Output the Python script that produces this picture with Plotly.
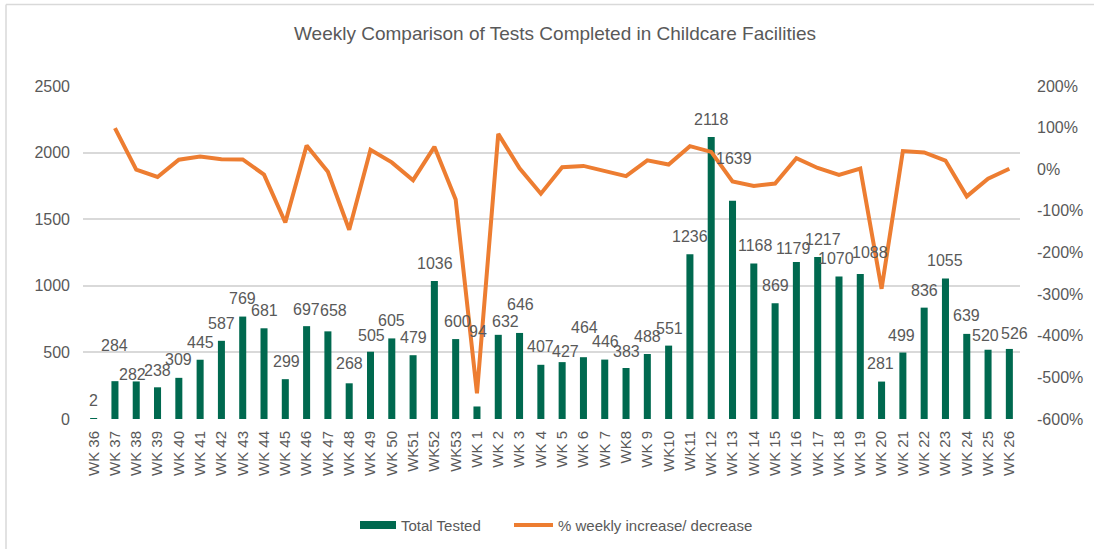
import plotly.graph_objects as go

# ---------------- data ----------------
weeks = ["WK 36", "WK 37", "WK 38", "WK 39", "WK 40", "WK 41", "WK 42", "WK 43", "WK 44",
         "WK 45", "WK 46", "WK 47", "WK 48", "WK 49", "WK 50", "WK51", "WK52", "WK53",
         "WK 1", "WK 2", "WK 3", "WK 4", "WK 5", "WK 6", "WK 7", "WK8", "WK 9", "WK10",
         "WK11", "WK 12", "WK 13", "WK 14", "WK 15", "WK 16", "WK 17", "WK 18", "WK 19",
         "WK 20", "WK 21", "WK 22", "WK 23", "WK 24", "WK 25", "WK 26"]

total_tested = [2, 284, 282, 238, 309, 445, 587, 769, 681,
                299, 697, 658, 268, 505, 605, 479, 1036, 600,
                94, 632, 646, 407, 427, 464, 446, 383, 488, 551,
                1236, 2118, 1639, 1168, 869, 1179, 1217, 1070, 1088,
                281, 499, 836, 1055, 639, 520, 526]

weekly_change = [None, 0.99, -0.007, -0.185, 0.230, 0.306, 0.242, 0.237, -0.129,
                 -1.278, 0.571, -0.059, -1.455, 0.469, 0.165, -0.263, 0.538, -0.727,
                 -5.383, 0.851, 0.022, -0.587, 0.047, 0.080, -0.040, -0.164, 0.215, 0.114,
                 0.554, 0.416, -0.292, -0.403, -0.344, 0.263, 0.031, -0.137, 0.017,
                 -2.872, 0.437, 0.403, 0.208, -0.651, -0.229, 0.011]

left_ticks = [0, 500, 1000, 1500, 2000, 2500]
right_ticks = [-6, -5, -4, -3, -2, -1, 0, 1, 2]
right_tick_labels = ["-600%", "-500%", "-400%", "-300%", "-200%", "-100%", "0%", "100%", "200%"]

title_text = "Weekly Comparison of Tests Completed in Childcare Facilities"
bar_name = "Total Tested"
line_name = "% weekly increase/ decrease"

# ---------------- style ----------------
W, H = 1094, 549
PL, PR, PT, PB = 83, 1020, 86, 419
FONT = "Liberation Sans, Arial, sans-serif"
TXT = "#595959"
GREEN = "#00694F"
ORANGE = "#ED7D31"
GRID = "#D9D9D9"

# label pixel offsets (manual placement as in the original)
label_dy = [18, 36, 6.5, 17, 18, 17, 17.5, 18, 17.6,
            17.5, 17, 20.7, 20, 16.7, 17.7, 17.5, 17.7, 17.3,
            75, 13, 28.7, 18, 11, 29.5, 18, 16, 18, 17.3,
            17.7, 17.6, 42, 17.7, 18, 13.7, 17, 17.5, 21.4,
            18, 17, 17.6, 17.5, 18, 14, 15]
label_dx = [0, 0, -3.6, 0, 0, 0, 0, 0, 0,
            1, 0, 6, 0, 1.5, 0, 0.8, 1, 1.5,
            1, 7.7, 1, 0, 3, 1, 0.5, 0, 0, 1,
            0, 0.7, 1, 1.3, 0, -2.5, 5.5, -3, 10,
            -0.8, -1.3, 0, -0.7, 0, -2.6, 5.4]


def px_x(p):
    return (p - PL) / (PR - PL)


def px_y(p):
    return (PB - p) / (PB - PT)


fig = go.Figure()

fig.add_trace(go.Bar(
    x=weeks, y=total_tested, name=bar_name,
    marker=dict(color=GREEN, line=dict(width=0)),
    width=0.33, yaxis="y", showlegend=False,
))

fig.add_trace(go.Scatter(
    x=weeks, y=weekly_change, name=line_name, mode="lines",
    line=dict(color=ORANGE, width=4), yaxis="y2", showlegend=False,
    connectgaps=False,
))

annotations = []
for i, (wk, v) in enumerate(zip(weeks, total_tested)):
    annotations.append(dict(
        x=wk, y=v, xref="x", yref="y", text=str(v), showarrow=False,
        xanchor="center", yanchor="middle", yshift=label_dy[i], xshift=label_dx[i],
        font=dict(family=FONT, size=16, color=TXT),
    ))

# title
annotations.append(dict(
    x=px_x(555), y=px_y(34), xref="paper", yref="paper", text=title_text,
    showarrow=False, xanchor="center", yanchor="middle",
    font=dict(family=FONT, size=19, color=TXT),
))

# custom legend
annotations.append(dict(
    x=px_x(399), y=px_y(525), xref="paper", yref="paper", text=bar_name,
    showarrow=False, xanchor="left", yanchor="middle",
    font=dict(family=FONT, size=15, color=TXT),
))
annotations.append(dict(
    x=px_x(556), y=px_y(525), xref="paper", yref="paper", text=line_name,
    showarrow=False, xanchor="left", yanchor="middle",
    font=dict(family=FONT, size=15, color=TXT),
))

shapes = [
    dict(type="rect", xref="paper", yref="paper",
         x0=px_x(360), x1=px_x(396), y0=px_y(529), y1=px_y(521),
         fillcolor=GREEN, line=dict(width=0)),
    dict(type="line", xref="paper", yref="paper",
         x0=px_x(514), x1=px_x(553), y0=px_y(525), y1=px_y(525),
         line=dict(color=ORANGE, width=4)),
    # chart-area border (top and left visible)
    dict(type="line", xref="paper", yref="paper",
         x0=px_x(6), x1=px_x(1200), y0=px_y(4.5), y1=px_y(4.5),
         line=dict(color=GRID, width=1.5)),
    dict(type="line", xref="paper", yref="paper",
         x0=px_x(6), x1=px_x(6), y0=px_y(4.5), y1=px_y(700),
         line=dict(color=GRID, width=1.5)),
]

fig.update_layout(
    width=W, height=H,
    margin=dict(l=PL, r=W - PR, t=PT, b=H - PB, pad=0),
    paper_bgcolor="white", plot_bgcolor="white",
    showlegend=False,
    annotations=annotations, shapes=shapes,
    bargap=0.67,
    xaxis=dict(
        type="category", tickangle=-90, showgrid=False, zeroline=False,
        tickfont=dict(family=FONT, size=15, color=TXT), ticks="",
        showline=False, ticklabelstandoff=8, range=[-0.5, len(weeks) - 0.5],
    ),
    yaxis=dict(
        range=[0, 2500], tickvals=left_ticks, showgrid=True, gridcolor=GRID,
        gridwidth=1.5, zeroline=False, showline=False,
        tickfont=dict(family=FONT, size=16, color=TXT), ticks="",
        ticklabelstandoff=12,
    ),
    yaxis2=dict(
        range=[-6, 2], tickvals=right_ticks, ticktext=right_tick_labels,
        overlaying="y", side="right", showgrid=False, zeroline=False,
        showline=False, tickfont=dict(family=FONT, size=16, color=TXT),
        ticks="", ticklabelstandoff=16,
    ),
)

fig.write_html(
    "out.html",
    config={"displayModeBar": False},
    post_script="document.body.style.margin='0';document.body.style.overflow='hidden';",
)
